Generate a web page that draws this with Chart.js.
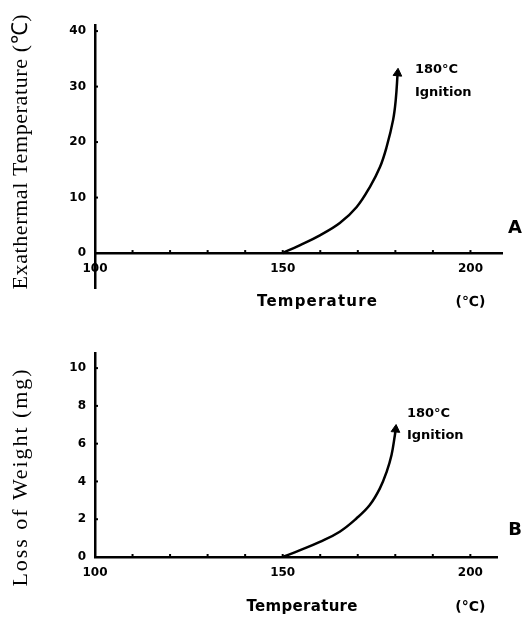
<!DOCTYPE html>
<html lang="en">
<head>
<meta charset="UTF-8">
<title>Exothermal temperature and loss of weight</title>
<script src="https://cdn.jsdelivr.net/npm/chart.js"></script>
<style>
  html, body { margin: 0; padding: 0; background: #fff; }
  .panel { position: relative; width: 522px; }
  #panelA { height: 310px; }
  #panelB { height: 309px; }
</style>
</head>
<body>
<div class="panel" id="panelA"><canvas id="chartA"></canvas></div>
<div class="panel" id="panelB"><canvas id="chartB"></canvas></div>
<script>
// temperature axis, shared by both panels (°C)
const xTicks = [100, 110, 120, 130, 140, 150, 160, 170, 180, 190, 200];
const xLabels = [100, 150, 200];

// panel A: exothermal temperature vs temperature
const tempA = [150, 154.5, 159.9, 165.2, 169.7, 173.2, 175.9, 177.7, 179.4, 180.1, 180.6];
const exoA = [0, 1.4, 3.2, 5.4, 8.3, 11.9, 15.5, 19.2, 24.0, 27.6, 32.4];
const yTicksA = [0, 10, 20, 30, 40];

// panel B: loss of weight vs temperature
const tempB = [150, 154.5, 159.9, 165.2, 169.7, 173.2, 175.9, 177.7, 179.0, 179.9, 180.1];
const lossB = [0, 0.35, 0.8, 1.34, 2.05, 2.75, 3.63, 4.51, 5.40, 6.46, 6.75];
const yTicksB = [0, 2, 4, 6, 8, 10];

Chart.defaults.color = '#000';
const tickFont = { family: 'DejaVu Sans', weight: 'bold', size: 12 };

// write text stretched (by letter spacing) to a given length, optionally turned
function spacedText(ctx, text, x, y, font, len, turn) {
    ctx.save();
    ctx.translate(x, y);
    if (turn) ctx.rotate(-Math.PI / 2);
    ctx.font = font;
    ctx.letterSpacing = '0px';
    const w = ctx.measureText(text).width;
    const gap = Math.max(0, (len - w) / (text.length - 1));
    ctx.letterSpacing = gap + 'px';
    ctx.textAlign = 'left';
    ctx.textBaseline = 'middle';
    ctx.fillText(text, -len / 2, 0);
    ctx.restore();
}

// tick nubs inside the axes, axis titles and the hand-written notes
const notes = {
    id: 'notes',
    afterDraw(chart, args, opts) {
        const ctx = chart.ctx;
        const x = chart.scales.x, y = chart.scales.y;
        const x0 = x.getPixelForValue(x.min);
        const y0 = y.getPixelForValue(0);
        ctx.save();
        ctx.strokeStyle = '#000';
        ctx.fillStyle = '#000';
        ctx.lineWidth = 2;
        x.ticks.forEach(t => {
            const px = x.getPixelForValue(t.value);
            ctx.beginPath();
            ctx.moveTo(px, y0);
            ctx.lineTo(px, y0 - 3);
            ctx.stroke();
        });
        y.ticks.forEach(t => {
            const py = y.getPixelForValue(t.value);
            ctx.beginPath();
            ctx.moveTo(x0, py);
            ctx.lineTo(x0 + 3, py);
            ctx.stroke();
        });

        spacedText(ctx, opts.yTitle, 21, opts.yTitleY, '22px "Liberation Serif"', opts.yTitleLen, true);
        spacedText(ctx, 'Temperature', opts.xTitleX, opts.xTitleY, 'bold 15px "DejaVu Sans"', opts.xTitleLen, false);

        ctx.textBaseline = 'middle';
        ctx.textAlign = 'left';
        ctx.font = 'bold 13px "DejaVu Sans"';
        opts.note.forEach((line, i) => {
            ctx.fillText(line, x.getPixelForValue(opts.noteX), y.getPixelForValue(opts.noteY[i]));
        });
        ctx.textAlign = 'center';
        ctx.font = 'bold 14px "DejaVu Sans"';
        ctx.fillText(opts.unit, x.getPixelForValue(200), opts.xTitleY);
        ctx.font = 'bold 18px "DejaVu Sans"';
        ctx.fillText(opts.letter, chart.width - 7, opts.letterY);
        ctx.restore();
    }
};

function makeChart(id, xs, ys, yTicks, cfg) {
    const n = xs.length;
    return new Chart(document.getElementById(id), {
        type: 'line',
        data: {
            datasets: [{
                data: xs.map((v, i) => ({ x: v, y: ys[i] })),
                borderColor: '#000',
                backgroundColor: '#000',
                borderWidth: 2.5,
                tension: 0.4,
                pointStyle: 'triangle',
                pointRadius: xs.map((v, i) => i === n - 1 ? 5 : 0),
                pointRotation: 5,
                pointBorderWidth: 1
            }]
        },
        options: {
            responsive: true,
            maintainAspectRatio: false,
            animation: false,
            layout: { padding: cfg.padding },
            plugins: {
                legend: { display: false },
                tooltip: { enabled: false },
                notes: cfg.notes
            },
            scales: {
                x: {
                    type: 'linear',
                    min: 100,
                    max: cfg.xMax,
                    position: { y: 0 },
                    afterBuildTicks: s => { s.ticks = xTicks.map(v => ({ value: v })); },
                    ticks: {
                        autoSkip: false,
                        maxRotation: 0,
                        padding: 9,
                        font: tickFont,
                        callback: v => xLabels.includes(v) ? String(v) : ''
                    },
                    grid: { display: false, drawTicks: false },
                    border: { color: '#000', width: 2.5 }
                },
                y: {
                    min: cfg.yMin,
                    max: cfg.yMax,
                    afterBuildTicks: s => { s.ticks = yTicks.map(v => ({ value: v })); },
                    afterFit: s => { s.width = 95; },
                    ticks: { padding: 9, font: tickFont },
                    grid: { display: false, drawTicks: false },
                    border: { color: '#000', width: 2.5 }
                }
            }
        },
        plugins: [notes]
    });
}

makeChart('chartA', tempA, exoA, yTicksA, {
    padding: { left: 0, right: 20, top: 25, bottom: 22 },
    xMax: 208.4, yMin: -6.3, yMax: 41.1,
    notes: {
        yTitle: 'Exathermal Temperature (℃)', yTitleY: 152, yTitleLen: 275,
        xTitleX: 317, xTitleY: 302, xTitleLen: 120,
        note: ['180°C', 'Ignition'], noteX: 185.2, noteY: [33.0, 29.0],
        unit: '(℃)', letter: 'A', letterY: 228
    }
});

makeChart('chartB', tempB, lossB, yTicksB, {
    padding: { left: 0, right: 25, top: 43, bottom: 62 },
    xMax: 207.1, yMin: 0, yMax: 10.8,
    notes: {
        yTitle: 'Loss of Weight (mg)', yTitleY: 168, yTitleLen: 217,
        xTitleX: 302, xTitleY: 297, xTitleLen: 111,
        note: ['180°C', 'Ignition'], noteX: 183.1, noteY: [7.6, 6.4],
        unit: '(°C)', letter: 'B', letterY: 220
    }
});
</script>
</body>
</html>
